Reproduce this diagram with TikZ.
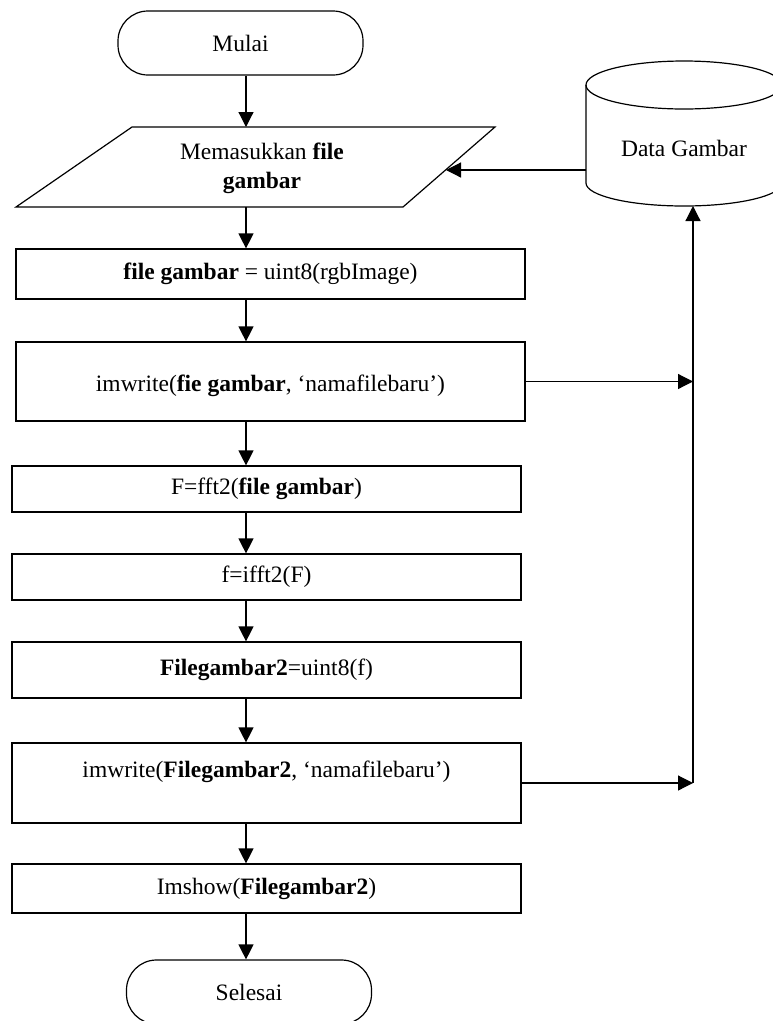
\documentclass[tikz,border=0pt]{standalone}
\usepackage{fontspec}
\setmainfont{Liberation Serif}
\usetikzlibrary{arrows.meta}
\begin{document}
\begin{tikzpicture}[x=1pt,y=1pt,line width=1.2pt,
  every node/.style={font=\fontsize{23.5}{27}\selectfont},
  proc/.style={draw,rectangle,inner sep=0pt,minimum width=509pt},
  term/.style={draw,rectangle,rounded corners=30pt,inner sep=0pt,minimum width=245pt,minimum height=64pt},
  arr/.style={-{Triangle[length=15pt,width=15pt]}}]
\useasboundingbox (0,0) rectangle (773,-1021);
\clip (0,0) rectangle (773,-1021);
\coordinate (ax) at (246,0);
\coordinate (vx) at (693,0);
% terminators
\node[term] (mulai) at (240.5,-43) {Mulai};
\node[term] (selesai) at (249,-992) {Selesai};
% input parallelogram
\coordinate (p1) at (132,-127);
\coordinate (p2) at (495,-127);
\coordinate (p3) at (403,-207);
\coordinate (p4) at (16,-207);
\draw (p1) -- (p2) -- (p3) -- (p4) -- cycle;
\node[align=center,font=\fontsize{23.5}{29}\selectfont] (input) at (262,-168) {Memasukkan \textbf{file}\\\textbf{gambar}};
\coordinate (pin) at (446,-170);
% cylinder
\draw (586,-85) -- (586,-183) arc[start angle=180,end angle=360,x radius=98,y radius=23] -- (782,-85);
\draw (684,-85) ellipse [x radius=98,y radius=24];
\node (data) at (684,-148) {Data Gambar};
\coordinate (cylL) at (586,-170);
\coordinate (cylB) at (693,-206);
% process boxes
\node[proc,minimum height=50pt] (b1) at (270.5,-274) {\textbf{file gambar} = uint8(rgbImage)};
\node[proc,minimum height=79pt,text height=25pt,text depth=5.5pt] (b2) at (270.5,-381.5) {imwrite(\textbf{fie gambar}, ‘namafilebaru’)};
\node[proc,minimum height=46pt] (b3) at (266.5,-489) {F=fft2(\textbf{file gambar})};
\node[proc,minimum height=46pt] (b4) at (266.5,-577) {f=ifft2(F)};
\node[proc,minimum height=56pt] (b5) at (266.5,-670) {\textbf{Filegambar2}=uint8(f)};
\node[proc,minimum height=80pt,text height=16pt,text depth=27pt] (b6) at (266.5,-783) {imwrite(\textbf{Filegambar2}, ‘namafilebaru’)};
\node[proc,minimum height=49pt] (b7) at (266.5,-888.5) {Imshow(\textbf{Filegambar2})};
% main flow
\draw[arr] (mulai.south -| ax) -- (ax |- p1);
\draw[arr] (ax |- p4) -- (b1.north -| ax);
\draw[arr] (b1.south -| ax) -- (b2.north -| ax);
\draw[arr] (b2.south -| ax) -- (b3.north -| ax);
\draw[arr] (b3.south -| ax) -- (b4.north -| ax);
\draw[arr] (b4.south -| ax) -- (b5.north -| ax);
\draw[arr] (b5.south -| ax) -- (b6.north -| ax);
\draw[arr] (b6.south -| ax) -- (b7.north -| ax);
\draw[arr] (b7.south -| ax) -- (selesai.north -| ax);
% side flow
\draw[arr] (cylL) -- (pin);
\draw[arr] (b2.east) -- (b2.east -| vx);
\draw[arr] (b6.east) -- (b6.east -| vx);
\draw[arr] (b6.east -| vx) -- (cylB);
\end{tikzpicture}
\end{document}
